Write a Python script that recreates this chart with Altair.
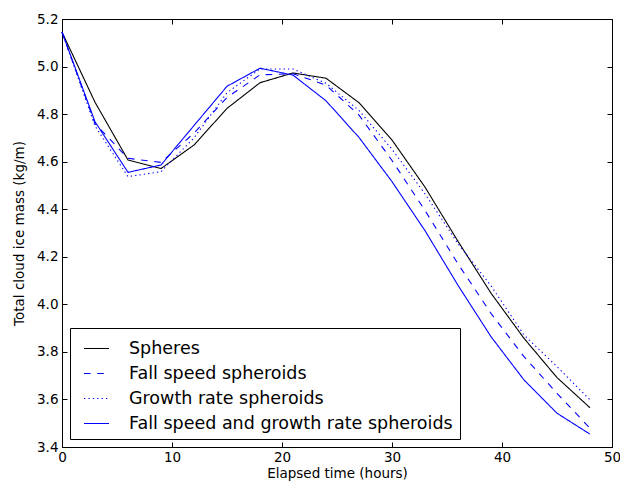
import altair as alt
import pandas as pd

hours = [0, 3, 6, 9, 12, 15, 18, 21, 24, 27, 30, 33, 36, 39, 42, 45, 48]

spheres = [5.145, 4.85, 4.607, 4.571, 4.67, 4.824, 4.932, 4.973, 4.951, 4.848,
           4.691, 4.493, 4.265, 4.047, 3.857, 3.692, 3.565]
fall_speed = [5.145, 4.76, 4.614, 4.597, 4.72, 4.87, 4.965, 4.97, 4.922, 4.796,
              4.605, 4.395, 4.17, 3.962, 3.78, 3.626, 3.479]
growth_rate = [5.145, 4.75, 4.537, 4.558, 4.70, 4.89, 4.99, 4.99, 4.93, 4.815,
               4.652, 4.465, 4.255, 4.078, 3.871, 3.738, 3.598]
both = [5.145, 4.768, 4.555, 4.586, 4.752, 4.917, 4.993, 4.964, 4.856, 4.702,
        4.516, 4.31, 4.08, 3.864, 3.682, 3.542, 3.454]

names = ["Spheres", "Fall speed spheroids", "Growth rate spheroids",
         "Fall speed and growth rate spheroids"]
series = [spheres, fall_speed, growth_rate, both]
colors = ["#000000", "#0000ff", "#0000ff", "#0000ff"]
dashes = [[1, 0], [6.6, 6.6], [1.3, 3.1], [1, 0]]
widths = [1.1, 1.1, 1.4, 1.1]

rows = []
for name, vals in zip(names, series):
    for t, v in zip(hours, vals):
        rows.append({"hours": t, "mass": v, "series": name})
df = pd.DataFrame(rows)

FONT = "DejaVu Sans"
xscale = alt.Scale(domain=[0, 50], nice=False, zero=False)
yscale = alt.Scale(domain=[3.4, 5.2], nice=False, zero=False)
xvals = [0, 10, 20, 30, 40, 50]
yvals = [3.4, 3.6, 3.8, 4.0, 4.2, 4.4, 4.6, 4.8, 5.0, 5.2]

dash_expr = (
    "datum.value == '" + names[1] + "' ? [6.6, 6.6] : "
    "(datum.value == '" + names[2] + "' ? [1.3, 3.1] : [1, 0])"
)
color_expr = "datum.value == '" + names[0] + "' ? '#000000' : '#0000ff'"

lines = alt.Chart(df).mark_line(strokeCap="butt").encode(
    x=alt.X("hours:Q", scale=xscale, title="Elapsed time (hours)",
            axis=alt.Axis(values=xvals, orient="bottom", domain=False, grid=False,
                          tickSize=5, offset=-5, labelPadding=3, titlePadding=3,
                          labelFlush=False, format="d")),
    y=alt.Y("mass:Q", scale=yscale, title="Total cloud ice mass (kg/m)",
            axis=alt.Axis(values=yvals, orient="left", domain=False, grid=False,
                          tickSize=5, offset=-5, labelPadding=4, titlePadding=10,
                          labelFlush=False, format=".1f")),
    color=alt.Color("series:N", title=None,
                    scale=alt.Scale(domain=names, range=colors),
                    legend=alt.Legend(orient="bottom-left",
                                      symbolDash=alt.ExprRef(expr=dash_expr),
                                      symbolStrokeColor=alt.ExprRef(expr=color_expr))),
    strokeDash=alt.StrokeDash("series:N",
                              scale=alt.Scale(domain=names, range=dashes),
                              legend=None),
    strokeWidth=alt.StrokeWidth("series:N",
                                scale=alt.Scale(domain=names, range=widths),
                                legend=None),
    order=alt.Order("hours:Q"),
)

frame_axes = alt.Chart(df).mark_line(opacity=0).encode(
    x=alt.X("hours:Q", scale=xscale, title=None,
            axis=alt.Axis(values=xvals, orient="top", domain=False, grid=False,
                          labels=False, tickSize=5, offset=-5)),
    y=alt.Y("mass:Q", scale=yscale, title=None,
            axis=alt.Axis(values=yvals, orient="right", domain=False, grid=False,
                          labels=False, tickSize=5, offset=-5)),
    detail="series:N",
)

chart = alt.layer(lines, frame_axes).resolve_axis(
    x="independent", y="independent"
).properties(
    width=550, height=428,
    autosize=alt.AutoSizeParams(type="none"),
    padding={"left": 54, "top": 11, "right": 8, "bottom": 34},
).configure_view(
    stroke="#000000", strokeWidth=1
).configure_axis(
    labelFont=FONT, titleFont=FONT, labelFontSize=13.5, titleFontSize=13.5,
    labelColor="#000000", titleColor="#000000", tickColor="#000000",
    titleFontWeight="normal", tickWidth=1
).configure_legend(
    labelFont=FONT, labelFontSize=17.5, labelColor="#000000",
    symbolType="stroke", symbolSize=625, symbolStrokeWidth=3,
    strokeColor="#000000", fillColor="#ffffff", padding=7, offset=8,
    labelOffset=19, symbolOffset=6, rowPadding=3, cornerRadius=0,
    labelLimit=500
)

chart.save("out.html", embed_options={"renderer": "svg", "actions": False})
